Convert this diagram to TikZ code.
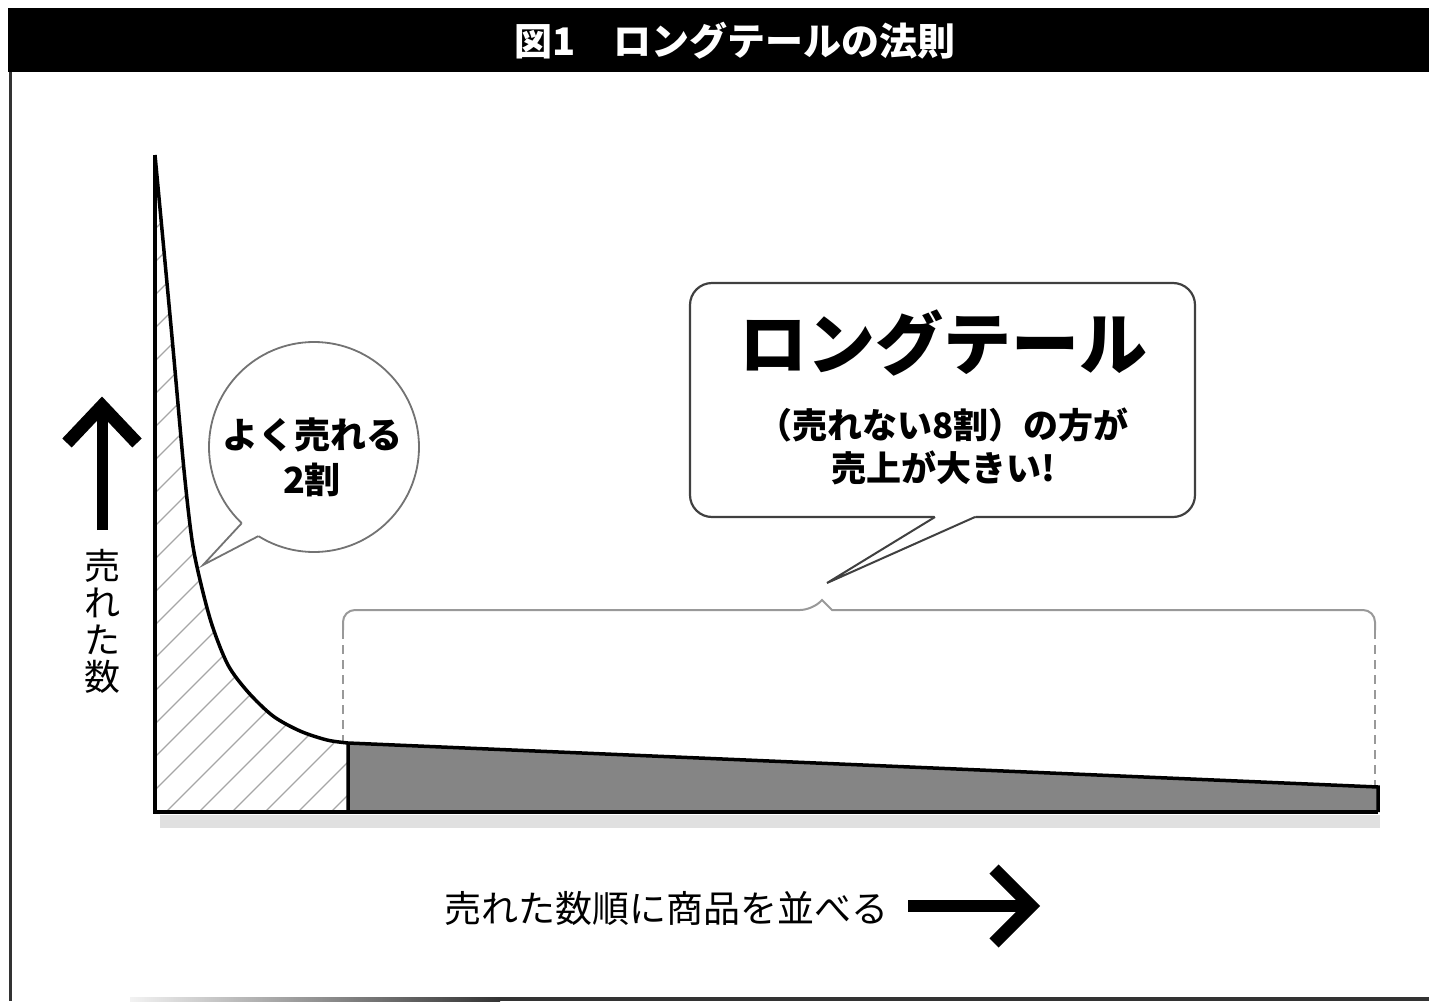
\documentclass[tikz,border=0pt]{standalone}
\usepackage{fontspec}
\setmainfont{Noto Sans CJK JP}
\begin{document}
\begin{tikzpicture}[x=1pt,y=-1pt,
  axisline/.style={line width=4pt, black},
  hatchline/.style={black!35, line width=1.2pt},
  bubbleline/.style={draw=black!55, line width=1.8pt, fill=white},
  boxline/.style={draw=black!75, line width=2.2pt, fill=white},
  brk/.style={black!40, line width=2pt},
  bigarrow/.style={line width=13pt, black, line join=miter, line cap=butt},
  ttl/.style={text=white, font=\bfseries\fontsize{38}{40}\selectfont},
  bubtext/.style={font=\bfseries\fontsize{36}{45}\selectfont, align=center},
  axlab/.style={font=\fontsize{36}{37}\selectfont, align=center}]
\useasboundingbox (0,0) rectangle (1429,1001);
% title bar
\fill[black] (8,8) rectangle (1429,72);
\node[ttl] (title) at (735,41) {図1　ロングテールの法則};
% frame
\draw[black!80, line width=3pt] (10,72) -- (10,1001);
\shade[left color=black!5, right color=black!80] (130,997) rectangle (500,1001);
\fill[black!80] (500,997) rectangle (1429,1001);
% shadow under baseline
\fill[black!12] (160,815) rectangle (1380,828);
% hatched head
\begin{scope}
\clip plot[smooth, tension=0.5] coordinates {(155,155) (172,337) (184,470) (192,540) (200,580) (212,625) (228,665) (248,692) (273,716) (300,731) (327,740) (348,743)} -- (348,812) -- (155,812) -- cycle;
\foreach \a in {-560,-527,...,380} \draw[hatchline] (\a,812) -- (\a+700,112);
\end{scope}
% long tail area
\fill[black!48] (348,743) -- (1378,787) -- (1378,812) -- (348,812) -- cycle;
% dashed bracket
\draw[brk] (343,630) [rounded corners=12pt]-- (343,610) -- (812,610) [sharp corners]-- (822,600) -- (832,610) [rounded corners=12pt]-- (1375,610) -- (1375,630);
\draw[brk, dash pattern=on 9pt off 6pt] (343,630) -- (343,743);
\draw[brk, dash pattern=on 9pt off 6pt] (1375,630) -- (1375,787);
\draw[line width=3.5pt, line join=miter] (348,812) -- (348,743) -- (1378,787) -- (1378,812);
% curve
\draw[line width=3.5pt] plot[smooth, tension=0.5] coordinates {(155,155) (172,337) (184,470) (192,540) (200,580) (212,625) (228,665) (248,692) (273,716) (300,731) (327,740) (348,743)};
% axes
\coordinate (org) at (155,812);
\coordinate (ytop) at (155,155);
\coordinate (xend) at (1378,812);
\draw[axisline, line join=miter] (ytop) -- (org) -- (xend);
% circle bubble
\node[circle, bubbleline, minimum size=210pt, inner sep=0pt] (pop) at (314,447) {};
\coordinate (ptip) at (203,565);
\fill[white] (245.2,519.6) -- (241.7,523.2) -- (ptip) -- (258.4,536.1) -- (261.1,531.9) -- cycle;
\draw[black!55, line width=1.8pt, line join=miter] (241.7,523.2) -- (ptip) -- (258.4,536.1);
\node[bubtext] (poptext) at (312,457) {よく売れる\\2割};
% rounded box bubble
\node[boxline, rounded corners=22pt, minimum width=505pt, minimum height=234pt] (lt) at (942.5,400) {};
\coordinate (ttip) at (827,583);
\fill[white] (933,512) -- (977,512) -- (975,517) -- (ttip) -- (935,517) -- cycle;
\draw[black!75, line width=2pt, line join=miter] (935,517) -- (ttip) -- (975,517);
\node[font=\bfseries\fontsize{68}{70}\selectfont] (lttitle) at (943,343) {ロングテール};
\node[bubtext, font=\bfseries\fontsize{35}{43}\selectfont] (lttext) at (943,446) {（売れない8割）の方が\\売上が大きい!};
% y axis arrow and label
\coordinate (ya0) at (102,530);
\coordinate (ya1) at (102,410);
\draw[bigarrow, line width=11pt] (ya0) -- (ya1);
\draw[bigarrow] (67,443) -- (102,406) -- (137,443);
\node[axlab] (ylab) at (102,621) {売\\れ\\た\\数};
% x axis label and arrow
\node[axlab, font=\fontsize{37}{40}\selectfont] (xlab) at (666,908) {売れた数順に商品を並べる};
\coordinate (xa0) at (908,906);
\coordinate (xa1) at (1028,906);
\draw[bigarrow, line width=12pt] (xa0) -- (xa1);
\draw[bigarrow] (994,869) -- (1031,906) -- (994,943);
\end{tikzpicture}
\end{document}
